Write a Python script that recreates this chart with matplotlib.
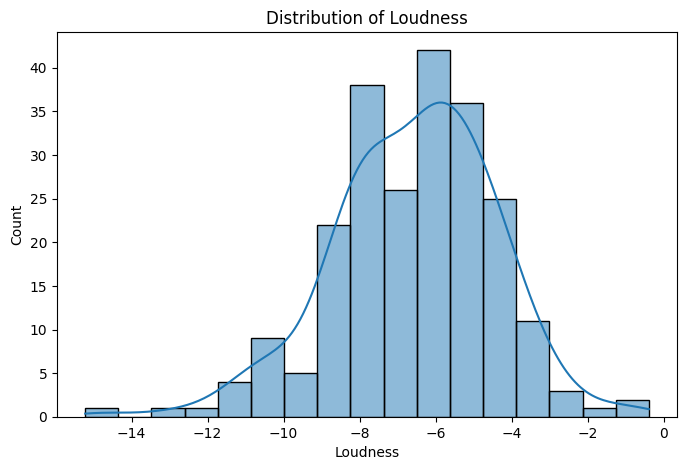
import numpy as np
import matplotlib
matplotlib.use("Agg")
import matplotlib.pyplot as plt

# Histogram
bin_lo, bin_hi = -15.22, -0.39
counts = [1, 0, 1, 1, 4, 9, 5, 22, 38, 26, 42, 36, 25, 11, 3, 1, 2]
title = "Distribution of Loudness"
xlabel = "Loudness"
ylabel = "Count"

edges = np.linspace(bin_lo, bin_hi, len(counts) + 1)
centers = (edges[:-1] + edges[1:]) / 2
width = edges[1] - edges[0]

fig = plt.figure(figsize=(6.86, 4.70), dpi=100)
ax = fig.add_axes([57 / 686, 1 - 417 / 470, 620 / 686, 385 / 470])

ax.bar(centers, counts, width=width, color="#1f77b4", alpha=0.5, edgecolor="none")
ax.bar(centers, counts, width=width, facecolor="none", edgecolor="black", linewidth=1)

# Gaussian KDE (Scott's rule) from the binned sample, scaled to counts
samples = np.repeat(centers, counts)
n = samples.size
bw = 1.1 * samples.std(ddof=1) * n ** (-1 / 5)
grid = np.linspace(bin_lo, bin_hi, 200)
dens = np.exp(-0.5 * ((grid[:, None] - samples[None, :]) / bw) ** 2).sum(axis=1)
dens /= n * bw * np.sqrt(2 * np.pi)
ax.plot(grid, dens * n * width, color="#1f77b4", linewidth=1.5)

ax.set_xlim(bin_lo - 0.05 * (bin_hi - bin_lo), bin_hi + 0.05 * (bin_hi - bin_lo))
ax.set_ylim(0, max(counts) * 1.05)
ax.set_title(title, fontsize=12)
ax.set_xlabel(xlabel)
ax.set_ylabel(ylabel)

fig.savefig("out.png", dpi=100)
